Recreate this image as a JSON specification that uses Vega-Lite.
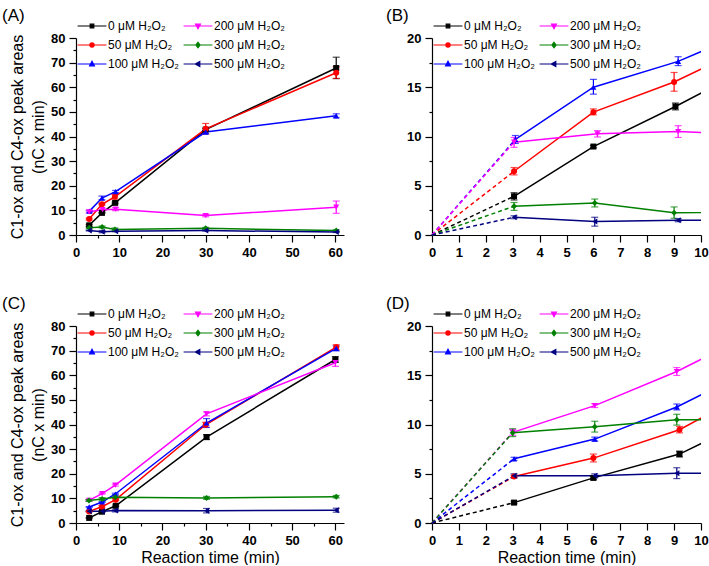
{
  "$schema": "https://vega.github.io/schema/vega-lite/v6.json",
  "background": "white",
  "padding": {"left": 2, "top": 7, "right": 0, "bottom": 0},
  "config": {
    "view": {"stroke": null},
    "font": "Liberation Sans",
    "axis": {"grid": false, "domainColor": "black", "domainWidth": 1.2, "tickColor": "black", "tickWidth": 1.2, "tickSize": 7, "labelFont": "Liberation Sans", "labelFontWeight": "bold", "labelFontSize": 13, "labelColor": "black", "labelPadding": 4, "labelFlush": false, "labelOverlap": false, "titleFont": "Liberation Sans", "titleFontWeight": "normal", "titleFontSize": 16, "titleColor": "black"},
    "title": {"fontSize": 17, "fontWeight": "normal", "anchor": "start", "frame": "group", "font": "Liberation Sans", "color": "black", "offset": -5},
    "legend": {"orient": "none", "legendX": 10, "legendY": -18, "columns": 2, "labelFont": "Liberation Sans", "labelFontSize": 12, "labelColor": "black", "symbolSize": 36, "symbolStrokeWidth": 1.2, "labelOffset": 10, "rowPadding": 7, "columnPadding": 2}
  },
  "datasets": {
    "top": [
      {"c": 0, "t": 3.05, "v": 3.93, "lo": 3.55, "hi": 4.3},
      {"c": 0, "t": 6.0, "v": 8.98, "lo": 8.85, "hi": 9.1},
      {"c": 0, "t": 9.05, "v": 13.05, "lo": 12.7, "hi": 13.4},
      {"c": 0, "t": 30.0, "v": 42.8, "lo": 42.3, "hi": 43.3},
      {"c": 0, "t": 60.2, "v": 67.8, "lo": 63.5, "hi": 72.2},
      {"c": 50, "t": 3.05, "v": 6.47, "lo": 6.1, "hi": 6.85},
      {"c": 50, "t": 6.0, "v": 12.47, "lo": 12.2, "hi": 12.8},
      {"c": 50, "t": 9.0, "v": 15.53, "lo": 14.6, "hi": 16.5},
      {"c": 50, "t": 30.0, "v": 43.1, "lo": 41.0, "hi": 45.3},
      {"c": 50, "t": 60.2, "v": 65.9, "lo": 63.6, "hi": 68.3},
      {"c": 100, "t": 3.1, "v": 9.7, "lo": 9.3, "hi": 10.1},
      {"c": 100, "t": 6.0, "v": 15.0, "lo": 14.3, "hi": 15.8},
      {"c": 100, "t": 9.15, "v": 17.63, "lo": 17.2, "hi": 18.1},
      {"c": 100, "t": 30.0, "v": 41.8, "lo": 41.2, "hi": 42.4},
      {"c": 100, "t": 60.2, "v": 48.4, "lo": 47.6, "hi": 49.2},
      {"c": 200, "t": 3.05, "v": 9.42, "lo": 8.9, "hi": 9.9},
      {"c": 200, "t": 6.15, "v": 10.27, "lo": 9.95, "hi": 10.6},
      {"c": 200, "t": 9.15, "v": 10.5, "lo": 9.9, "hi": 11.1},
      {"c": 200, "t": 30.0, "v": 7.9, "lo": 7.4, "hi": 8.4},
      {"c": 200, "t": 60.2, "v": 11.3, "lo": 8.8, "hi": 13.8},
      {"c": 300, "t": 3.05, "v": 2.92, "lo": 2.5, "hi": 3.3},
      {"c": 300, "t": 6.05, "v": 3.25, "lo": 2.85, "hi": 3.65},
      {"c": 300, "t": 9.0, "v": 2.27, "lo": 1.7, "hi": 2.85},
      {"c": 300, "t": 30.0, "v": 2.7, "lo": 2.3, "hi": 3.1},
      {"c": 300, "t": 60.2, "v": 1.8, "lo": 1.5, "hi": 2.1},
      {"c": 500, "t": 3.05, "v": 1.8, "lo": 1.65, "hi": 1.95},
      {"c": 500, "t": 6.05, "v": 1.36, "lo": 0.9, "hi": 1.8},
      {"c": 500, "t": 9.15, "v": 1.49, "lo": 1.35, "hi": 1.65},
      {"c": 500, "t": 30.0, "v": 1.8, "lo": 1.6, "hi": 2.0},
      {"c": 500, "t": 60.2, "v": 1.2, "lo": 1.0, "hi": 1.4}
    ],
    "bottom": [
      {"c": 0, "t": 3.05, "v": 2.07, "lo": 1.95, "hi": 2.2},
      {"c": 0, "t": 6.0, "v": 4.58, "lo": 4.4, "hi": 4.75},
      {"c": 0, "t": 9.2, "v": 7.0, "lo": 6.7, "hi": 7.3},
      {"c": 0, "t": 30.2, "v": 34.9, "lo": 33.9, "hi": 35.9},
      {"c": 0, "t": 60.0, "v": 66.4, "lo": 65.2, "hi": 67.6},
      {"c": 50, "t": 3.05, "v": 4.72, "lo": 4.6, "hi": 4.85},
      {"c": 50, "t": 6.0, "v": 6.59, "lo": 6.2, "hi": 7.0},
      {"c": 50, "t": 9.2, "v": 9.47, "lo": 9.15, "hi": 9.8},
      {"c": 50, "t": 30.0, "v": 39.9, "lo": 38.9, "hi": 40.9},
      {"c": 50, "t": 60.2, "v": 71.4, "lo": 70.4, "hi": 72.4},
      {"c": 100, "t": 3.05, "v": 6.52, "lo": 6.37, "hi": 6.67},
      {"c": 100, "t": 6.05, "v": 8.52, "lo": 8.32, "hi": 8.72},
      {"c": 100, "t": 9.1, "v": 11.78, "lo": 11.48, "hi": 12.08},
      {"c": 100, "t": 30.2, "v": 40.6, "lo": 38.8, "hi": 42.4},
      {"c": 100, "t": 60.2, "v": 70.9, "lo": 69.9, "hi": 71.9},
      {"c": 200, "t": 3.0, "v": 9.2, "lo": 8.9, "hi": 9.5},
      {"c": 200, "t": 6.05, "v": 11.92, "lo": 11.72, "hi": 12.12},
      {"c": 200, "t": 9.1, "v": 15.38, "lo": 14.98, "hi": 15.78},
      {"c": 200, "t": 30.2, "v": 44.3, "lo": 43.5, "hi": 45.1},
      {"c": 200, "t": 60.0, "v": 65.1, "lo": 63.6, "hi": 66.6},
      {"c": 300, "t": 3.0, "v": 9.17, "lo": 8.77, "hi": 9.57},
      {"c": 300, "t": 6.05, "v": 9.78, "lo": 9.23, "hi": 10.33},
      {"c": 300, "t": 9.1, "v": 10.49, "lo": 9.94, "hi": 11.04},
      {"c": 300, "t": 30.2, "v": 10.2, "lo": 9.6, "hi": 10.8},
      {"c": 300, "t": 60.2, "v": 10.7, "lo": 10.2, "hi": 11.2},
      {"c": 500, "t": 3.05, "v": 4.79, "lo": 4.59, "hi": 4.99},
      {"c": 500, "t": 6.05, "v": 4.79, "lo": 4.59, "hi": 4.99},
      {"c": 500, "t": 9.1, "v": 5.06, "lo": 4.51, "hi": 5.61},
      {"c": 500, "t": 30.2, "v": 5.0, "lo": 4.1, "hi": 5.9},
      {"c": 500, "t": 60.2, "v": 5.2, "lo": 4.4, "hi": 6.0}
    ],
    "topDash": [
      {"c": 0, "t": 0, "v": 0}, {"c": 0, "t": 3.05, "v": 3.93},
      {"c": 50, "t": 0, "v": 0}, {"c": 50, "t": 3.05, "v": 6.47},
      {"c": 100, "t": 0, "v": 0}, {"c": 100, "t": 3.1, "v": 9.7},
      {"c": 200, "t": 0, "v": 0}, {"c": 200, "t": 3.05, "v": 9.42},
      {"c": 300, "t": 0, "v": 0}, {"c": 300, "t": 3.05, "v": 2.92},
      {"c": 500, "t": 0, "v": 0}, {"c": 500, "t": 3.05, "v": 1.8}
    ],
    "bottomDash": [
      {"c": 0, "t": 0, "v": 0}, {"c": 0, "t": 3.05, "v": 2.07},
      {"c": 50, "t": 0, "v": 0}, {"c": 50, "t": 3.05, "v": 4.72},
      {"c": 100, "t": 0, "v": 0}, {"c": 100, "t": 3.05, "v": 6.52},
      {"c": 200, "t": 0, "v": 0}, {"c": 200, "t": 3.0, "v": 9.2},
      {"c": 300, "t": 0, "v": 0}, {"c": 300, "t": 3.0, "v": 9.17},
      {"c": 500, "t": 0, "v": 0}, {"c": 500, "t": 3.05, "v": 4.79}
    ]
  },
  "resolve": {"scale": {"fill": "independent", "stroke": "independent", "shape": "independent"}, "legend": {"fill": "independent", "stroke": "independent", "shape": "independent"}},
  "spacing": 36,
  "vconcat": [
    {
      "spacing": 36,
      "resolve": {"scale": {"fill": "independent", "stroke": "independent", "shape": "independent"}, "legend": {"fill": "independent", "stroke": "independent", "shape": "independent"}},
      "hconcat": [
        {
          "width": 268, "height": 197,
          "title": {"text": "(A)", "dx": -74},
          "data": {"name": "top"},
          "encoding": {
            "x": {"field": "t", "type": "quantitative", "scale": {"domain": [0, 62], "nice": false}, "axis": {"title": null, "values": [0,5,10,15,20,25,30,35,40,45,50,55,60], "labelExpr": "datum.value % 10 === 0 ? datum.label : ''", "tickSize": {"condition": {"test": "datum.value % 10 !== 0", "value": 3}, "value": 7}}},
            "y": {"field": "v", "type": "quantitative", "scale": {"domain": [0, 80], "nice": false}, "axis": {"title": ["C1-ox and C4-ox peak areas", "(nC x min)"], "titleLineHeight": 21, "titlePadding": 4, "values": [0,5,10,15,20,25,30,35,40,45,50,55,60,65,70,75,80], "labelExpr": "datum.value % 10 === 0 ? datum.label : ''", "tickSize": {"condition": {"test": "datum.value % 10 !== 0", "value": 3}, "value": 7}}},
            "color": {"field": "c", "type": "nominal", "scale": {"domain": [0, 50, 100, 200, 300, 500], "range": ["#000000", "#ff0000", "#0000ff", "#ff00ff", "#008000", "#000080"]}, "legend": null}
          },
          "layer": [
            {"mark": {"type": "line", "strokeWidth": 1.5, "clip": true}},
            {"mark": {"type": "errorbar", "ticks": {"size": 7}, "thickness": 1.2},
             "encoding": {
               "y": {"field": "lo", "type": "quantitative", "scale": {"domain": [0, 80], "nice": false}, "axis": {"title": ["C1-ox and C4-ox peak areas", "(nC x min)"], "titleLineHeight": 21, "titlePadding": 4, "values": [0,5,10,15,20,25,30,35,40,45,50,55,60,65,70,75,80], "labelExpr": "datum.value % 10 === 0 ? datum.label : ''", "tickSize": {"condition": {"test": "datum.value % 10 !== 0", "value": 3}, "value": 7}}},
               "y2": {"field": "hi"}
             }},
            {"mark": {"type": "point", "filled": true, "opacity": 1, "size": 36},
             "encoding": {
               "shape": {"condition": [{"test": "datum.c === 0", "value": "square"}, {"test": "datum.c === 50", "value": "circle"}, {"test": "datum.c === 100", "value": "triangle-up"}, {"test": "datum.c === 200", "value": "triangle-down"}, {"test": "datum.c === 300", "value": "diamond"}], "value": "triangle-left"}
             }},
            {"mark": {"type": "point", "filled": true, "opacity": 0},
             "encoding": {
               "fill": {"field": "c", "type": "nominal", "title": null, "scale": {"domain": [0, 50, 100, 200, 300, 500], "range": ["#000000", "#ff0000", "#0000ff", "#ff00ff", "#008000", "#000080"]}, "legend": {"labelExpr": "datum.label + ' μM H₂O₂'", "encode": {"symbols": {"update": {"opacity": {"value": 1}, "strokeWidth": {"value": 1.2}}}}}},
               "stroke": {"field": "c", "type": "nominal", "title": null, "scale": {"domain": [0, 50, 100, 200, 300, 500], "range": ["#000000", "#ff0000", "#0000ff", "#ff00ff", "#008000", "#000080"]}},
               "shape": {"field": "c", "type": "nominal", "title": null, "scale": {"domain": [0, 50, 100, 200, 300, 500], "range": ["M-4.8,0H4.8M-0.6,-0.6H0.6V0.6H-0.6Z", "M-4.8,0H4.8M-0.7,0A0.7,0.7,0,1,0,0.7,0A0.7,0.7,0,1,0,-0.7,0Z", "M-4.8,0H4.8M0,-0.9L0.8,0.6H-0.8Z", "M-4.8,0H4.8M0,0.9L0.8,-0.6H-0.8Z", "M-4.8,0H4.8M0,-0.9L0.7,0L0,0.9L-0.7,0Z", "M-4.8,0H4.8M-0.9,0L0.6,-0.8V0.8Z"]}}
             }}
          ]
        },
        {
          "width": 269, "height": 197,
          "title": {"text": "(B)", "dx": -46},
          "data": {"name": "top"},
          "encoding": {
            "x": {"field": "t", "type": "quantitative", "scale": {"domain": [0, 10], "nice": false}, "axis": {"title": null, "format": "d", "values": [0,0.5,1,1.5,2,2.5,3,3.5,4,4.5,5,5.5,6,6.5,7,7.5,8,8.5,9,9.5,10], "labelExpr": "datum.value % 1 === 0 ? datum.label : ''", "tickSize": {"condition": {"test": "datum.value % 1 !== 0", "value": 3}, "value": 7}}},
            "y": {"field": "v", "type": "quantitative", "scale": {"domain": [0, 20], "nice": false}, "axis": {"title": null, "format": "d", "values": [0,2.5,5,7.5,10,12.5,15,17.5,20], "labelExpr": "datum.value % 5 === 0 ? datum.label : ''", "tickSize": {"condition": {"test": "datum.value % 5 !== 0", "value": 3}, "value": 7}}},
            "color": {"field": "c", "type": "nominal", "scale": {"domain": [0, 50, 100, 200, 300, 500], "range": ["#000000", "#ff0000", "#0000ff", "#ff00ff", "#008000", "#000080"]}, "legend": null}
          },
          "layer": [
            {"data": {"name": "topDash"}, "mark": {"type": "line", "strokeWidth": 1.5, "strokeDash": [4, 3]}},
            {"mark": {"type": "line", "strokeWidth": 1.5, "clip": true}},
            {"transform": [{"filter": "datum.t <= 10"}], "mark": {"type": "errorbar", "ticks": {"size": 7}, "thickness": 1.2},
             "encoding": {
               "y": {"field": "lo", "type": "quantitative", "scale": {"domain": [0, 20], "nice": false}, "axis": {"title": null, "format": "d", "values": [0,2.5,5,7.5,10,12.5,15,17.5,20], "labelExpr": "datum.value % 5 === 0 ? datum.label : ''", "tickSize": {"condition": {"test": "datum.value % 5 !== 0", "value": 3}, "value": 7}}},
               "y2": {"field": "hi"}
             }},
            {"transform": [{"filter": "datum.t <= 10"}], "mark": {"type": "point", "filled": true, "opacity": 1, "size": 36},
             "encoding": {
               "shape": {"condition": [{"test": "datum.c === 0", "value": "square"}, {"test": "datum.c === 50", "value": "circle"}, {"test": "datum.c === 100", "value": "triangle-up"}, {"test": "datum.c === 200", "value": "triangle-down"}, {"test": "datum.c === 300", "value": "diamond"}], "value": "triangle-left"}
             }},
            {"transform": [{"filter": "datum.t <= 10"}], "mark": {"type": "point", "filled": true, "opacity": 0},
             "encoding": {
               "fill": {"field": "c", "type": "nominal", "title": null, "scale": {"domain": [0, 50, 100, 200, 300, 500], "range": ["#000000", "#ff0000", "#0000ff", "#ff00ff", "#008000", "#000080"]}, "legend": {"labelExpr": "datum.label + ' μM H₂O₂'", "encode": {"symbols": {"update": {"opacity": {"value": 1}, "strokeWidth": {"value": 1.2}}}}}},
               "stroke": {"field": "c", "type": "nominal", "title": null, "scale": {"domain": [0, 50, 100, 200, 300, 500], "range": ["#000000", "#ff0000", "#0000ff", "#ff00ff", "#008000", "#000080"]}},
               "shape": {"field": "c", "type": "nominal", "title": null, "scale": {"domain": [0, 50, 100, 200, 300, 500], "range": ["M-4.8,0H4.8M-0.6,-0.6H0.6V0.6H-0.6Z", "M-4.8,0H4.8M-0.7,0A0.7,0.7,0,1,0,0.7,0A0.7,0.7,0,1,0,-0.7,0Z", "M-4.8,0H4.8M0,-0.9L0.8,0.6H-0.8Z", "M-4.8,0H4.8M0,0.9L0.8,-0.6H-0.8Z", "M-4.8,0H4.8M0,-0.9L0.7,0L0,0.9L-0.7,0Z", "M-4.8,0H4.8M-0.9,0L0.6,-0.8V0.8Z"]}}
             }}
          ]
        }
      ]
    },
    {
      "spacing": 36,
      "resolve": {"scale": {"fill": "independent", "stroke": "independent", "shape": "independent"}, "legend": {"fill": "independent", "stroke": "independent", "shape": "independent"}},
      "hconcat": [
        {
          "width": 268, "height": 197,
          "title": {"text": "(C)", "dx": -74},
          "data": {"name": "bottom"},
          "encoding": {
            "x": {"field": "t", "type": "quantitative", "scale": {"domain": [0, 62], "nice": false}, "axis": {"title": "Reaction time (min)", "titlePadding": 2, "values": [0,5,10,15,20,25,30,35,40,45,50,55,60], "labelExpr": "datum.value % 10 === 0 ? datum.label : ''", "tickSize": {"condition": {"test": "datum.value % 10 !== 0", "value": 3}, "value": 7}}},
            "y": {"field": "v", "type": "quantitative", "scale": {"domain": [0, 80], "nice": false}, "axis": {"title": ["C1-ox and C4-ox peak areas", "(nC x min)"], "titleLineHeight": 21, "titlePadding": 4, "values": [0,5,10,15,20,25,30,35,40,45,50,55,60,65,70,75,80], "labelExpr": "datum.value % 10 === 0 ? datum.label : ''", "tickSize": {"condition": {"test": "datum.value % 10 !== 0", "value": 3}, "value": 7}}},
            "color": {"field": "c", "type": "nominal", "scale": {"domain": [0, 50, 100, 200, 300, 500], "range": ["#000000", "#ff0000", "#0000ff", "#ff00ff", "#008000", "#000080"]}, "legend": null}
          },
          "layer": [
            {"mark": {"type": "line", "strokeWidth": 1.5, "clip": true}},
            {"mark": {"type": "errorbar", "ticks": {"size": 7}, "thickness": 1.2},
             "encoding": {
               "y": {"field": "lo", "type": "quantitative", "scale": {"domain": [0, 80], "nice": false}, "axis": {"title": ["C1-ox and C4-ox peak areas", "(nC x min)"], "titleLineHeight": 21, "titlePadding": 4, "values": [0,5,10,15,20,25,30,35,40,45,50,55,60,65,70,75,80], "labelExpr": "datum.value % 10 === 0 ? datum.label : ''", "tickSize": {"condition": {"test": "datum.value % 10 !== 0", "value": 3}, "value": 7}}},
               "y2": {"field": "hi"}
             }},
            {"mark": {"type": "point", "filled": true, "opacity": 1, "size": 36},
             "encoding": {
               "shape": {"condition": [{"test": "datum.c === 0", "value": "square"}, {"test": "datum.c === 50", "value": "circle"}, {"test": "datum.c === 100", "value": "triangle-up"}, {"test": "datum.c === 200", "value": "triangle-down"}, {"test": "datum.c === 300", "value": "diamond"}], "value": "triangle-left"}
             }},
            {"mark": {"type": "point", "filled": true, "opacity": 0},
             "encoding": {
               "fill": {"field": "c", "type": "nominal", "title": null, "scale": {"domain": [0, 50, 100, 200, 300, 500], "range": ["#000000", "#ff0000", "#0000ff", "#ff00ff", "#008000", "#000080"]}, "legend": {"labelExpr": "datum.label + ' μM H₂O₂'", "encode": {"symbols": {"update": {"opacity": {"value": 1}, "strokeWidth": {"value": 1.2}}}}}},
               "stroke": {"field": "c", "type": "nominal", "title": null, "scale": {"domain": [0, 50, 100, 200, 300, 500], "range": ["#000000", "#ff0000", "#0000ff", "#ff00ff", "#008000", "#000080"]}},
               "shape": {"field": "c", "type": "nominal", "title": null, "scale": {"domain": [0, 50, 100, 200, 300, 500], "range": ["M-4.8,0H4.8M-0.6,-0.6H0.6V0.6H-0.6Z", "M-4.8,0H4.8M-0.7,0A0.7,0.7,0,1,0,0.7,0A0.7,0.7,0,1,0,-0.7,0Z", "M-4.8,0H4.8M0,-0.9L0.8,0.6H-0.8Z", "M-4.8,0H4.8M0,0.9L0.8,-0.6H-0.8Z", "M-4.8,0H4.8M0,-0.9L0.7,0L0,0.9L-0.7,0Z", "M-4.8,0H4.8M-0.9,0L0.6,-0.8V0.8Z"]}}
             }}
          ]
        },
        {
          "width": 269, "height": 197,
          "title": {"text": "(D)", "dx": -46},
          "data": {"name": "bottom"},
          "encoding": {
            "x": {"field": "t", "type": "quantitative", "scale": {"domain": [0, 10], "nice": false}, "axis": {"title": "Reaction time (min)", "titlePadding": 2, "format": "d", "values": [0,0.5,1,1.5,2,2.5,3,3.5,4,4.5,5,5.5,6,6.5,7,7.5,8,8.5,9,9.5,10], "labelExpr": "datum.value % 1 === 0 ? datum.label : ''", "tickSize": {"condition": {"test": "datum.value % 1 !== 0", "value": 3}, "value": 7}}},
            "y": {"field": "v", "type": "quantitative", "scale": {"domain": [0, 20], "nice": false}, "axis": {"title": null, "format": "d", "values": [0,2.5,5,7.5,10,12.5,15,17.5,20], "labelExpr": "datum.value % 5 === 0 ? datum.label : ''", "tickSize": {"condition": {"test": "datum.value % 5 !== 0", "value": 3}, "value": 7}}},
            "color": {"field": "c", "type": "nominal", "scale": {"domain": [0, 50, 100, 200, 300, 500], "range": ["#000000", "#ff0000", "#0000ff", "#ff00ff", "#008000", "#000080"]}, "legend": null}
          },
          "layer": [
            {"data": {"name": "bottomDash"}, "mark": {"type": "line", "strokeWidth": 1.5, "strokeDash": [4, 3]}},
            {"mark": {"type": "line", "strokeWidth": 1.5, "clip": true}},
            {"transform": [{"filter": "datum.t <= 10"}], "mark": {"type": "errorbar", "ticks": {"size": 7}, "thickness": 1.2},
             "encoding": {
               "y": {"field": "lo", "type": "quantitative", "scale": {"domain": [0, 20], "nice": false}, "axis": {"title": null, "format": "d", "values": [0,2.5,5,7.5,10,12.5,15,17.5,20], "labelExpr": "datum.value % 5 === 0 ? datum.label : ''", "tickSize": {"condition": {"test": "datum.value % 5 !== 0", "value": 3}, "value": 7}}},
               "y2": {"field": "hi"}
             }},
            {"transform": [{"filter": "datum.t <= 10"}], "mark": {"type": "point", "filled": true, "opacity": 1, "size": 36},
             "encoding": {
               "shape": {"condition": [{"test": "datum.c === 0", "value": "square"}, {"test": "datum.c === 50", "value": "circle"}, {"test": "datum.c === 100", "value": "triangle-up"}, {"test": "datum.c === 200", "value": "triangle-down"}, {"test": "datum.c === 300", "value": "diamond"}], "value": "triangle-left"}
             }},
            {"transform": [{"filter": "datum.t <= 10"}], "mark": {"type": "point", "filled": true, "opacity": 0},
             "encoding": {
               "fill": {"field": "c", "type": "nominal", "title": null, "scale": {"domain": [0, 50, 100, 200, 300, 500], "range": ["#000000", "#ff0000", "#0000ff", "#ff00ff", "#008000", "#000080"]}, "legend": {"labelExpr": "datum.label + ' μM H₂O₂'", "encode": {"symbols": {"update": {"opacity": {"value": 1}, "strokeWidth": {"value": 1.2}}}}}},
               "stroke": {"field": "c", "type": "nominal", "title": null, "scale": {"domain": [0, 50, 100, 200, 300, 500], "range": ["#000000", "#ff0000", "#0000ff", "#ff00ff", "#008000", "#000080"]}},
               "shape": {"field": "c", "type": "nominal", "title": null, "scale": {"domain": [0, 50, 100, 200, 300, 500], "range": ["M-4.8,0H4.8M-0.6,-0.6H0.6V0.6H-0.6Z", "M-4.8,0H4.8M-0.7,0A0.7,0.7,0,1,0,0.7,0A0.7,0.7,0,1,0,-0.7,0Z", "M-4.8,0H4.8M0,-0.9L0.8,0.6H-0.8Z", "M-4.8,0H4.8M0,0.9L0.8,-0.6H-0.8Z", "M-4.8,0H4.8M0,-0.9L0.7,0L0,0.9L-0.7,0Z", "M-4.8,0H4.8M-0.9,0L0.6,-0.8V0.8Z"]}}
             }}
          ]
        }
      ]
    }
  ]
}
